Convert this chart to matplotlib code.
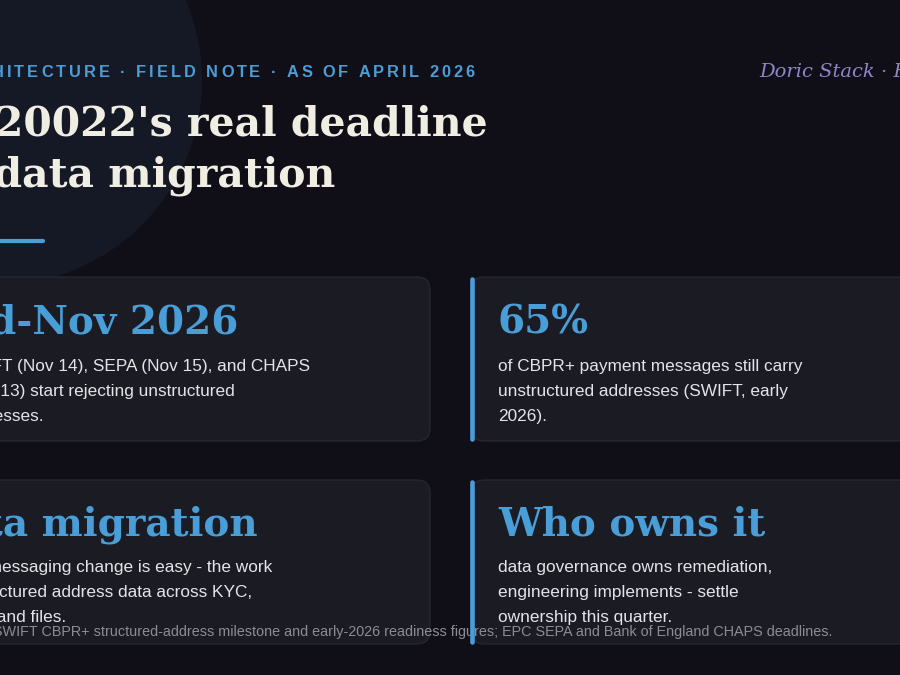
import matplotlib
matplotlib.use("Agg")
import matplotlib.pyplot as plt
from matplotlib.patches import FancyBboxPatch, Circle

# ---------------- data ----------------
kicker = "PAYMENTS ARCHITECTURE · FIELD NOTE · AS OF APRIL 2026"
brand = "Doric Stack · Field Notes"
title_lines = ["ISO 20022's real deadline", "is a data migration"]
card_heads = ["Mid-Nov 2026", "65%", "Data migration", "Who owns it"]
card_bodies = [
    ["SWIFT (Nov 14), SEPA (Nov 15), and CHAPS",
     "(Nov 13) start rejecting unstructured",
     "addresses."],
    ["of CBPR+ payment messages still carry",
     "unstructured addresses (SWIFT, early",
     "2026)."],
    ["The messaging change is easy - the work",
     "is structured address data across KYC,",
     "CRM and files."],
    ["data governance owns remediation,",
     "engineering implements - settle",
     "ownership this quarter."],
]
source = ("Sources: SWIFT CBPR+ structured-address milestone and early-2026 readiness "
          "figures; EPC SEPA and Bank of England CHAPS deadlines.")

# ---------------- style ----------------
BG = "#100f18"
CIRCLE = "#151825"
CARD = "#1b1b23"
EDGE = "#2a2a34"
BLUE = "#4a9ed8"
PURPLE = "#8d86cc"
CREAM = "#f0ede3"
BODY = "#e4e4e8"
GRAY = "#8c8c96"
SERIF = "DejaVu Serif"
SANS = "Liberation Sans"

W, H = 900, 675
fig = plt.figure(figsize=(9, 6.75), dpi=100)
fig.patch.set_facecolor(BG)
ax = fig.add_axes([0, 0, 1, 1])
ax.set_xlim(0, W)
ax.set_ylim(H, 0)
ax.axis("off")
ax.set_facecolor(BG)
r = fig.canvas.get_renderer()


def text_width(s, **kw):
    t = ax.text(0, 0, s, **kw)
    w = t.get_window_extent(renderer=r).width
    t.remove()
    return w


def spaced_text(x_end, y, s, spacing, **kw):
    base = text_width("||", **kw)
    offs = [text_width("|" + s[:i] + "|", **kw) - base for i in range(len(s) + 1)]
    total = offs[-1] + spacing * (len(s) - 1)
    x0 = x_end - total
    for i, ch in enumerate(s):
        ax.text(x0 + offs[i] + spacing * i, y, ch, ha="left", va="baseline", **kw)


# background circle
ax.add_patch(Circle((-3, 80), 205, facecolor=CIRCLE, edgecolor="none", zorder=0.5))

# kicker
spaced_text(475, 77, kicker, 3.0, fontsize=11.8, family=SANS, weight="bold",
            color=BLUE, zorder=3)
# brand
ax.text(759, 77, brand, ha="left", va="baseline", fontsize=14, family=SERIF,
        style="italic", color=PURPLE, zorder=3)

# title
title_ends = [488, 335]
title_base = [135, 186]
for line, xe, yb in zip(title_lines, title_ends, title_base):
    ax.text(xe, yb, line, ha="right", va="baseline", fontsize=29.5, family=SERIF,
            weight="bold", color=CREAM, zorder=3)

# accent rule
ax.plot([-10, 43], [240.5, 240.5], color=BLUE, lw=3, solid_capstyle="round", zorder=3)

# cards
card_x = [(-90, 430), (471, 990), (-90, 430), (471, 990)]
card_y = [(277, 441), (277, 441), (480, 644), (480, 644)]
for (x0, x1), (y0, y1) in zip(card_x, card_y):
    ax.add_patch(FancyBboxPatch((x0, y0), x1 - x0, y1 - y0,
                                boxstyle="round,pad=0,rounding_size=13",
                                facecolor=CARD, edgecolor=EDGE, lw=0.8, zorder=1))

# accent bars for right cards
for i in (1, 3):
    y0, y1 = card_y[i]
    ax.plot([471.5, 471.5], [y0 + 2, y1 - 2], color=BLUE, lw=3.3,
            solid_capstyle="round", zorder=5)

head_kw = dict(fontsize=28, family=SERIF, weight="bold", color=BLUE, zorder=3)
body_kw = dict(fontsize=12.45, family=SANS, color=BODY, zorder=3)

head_base = [333, 333, 535, 535]
body_base = [[370.5, 396, 421], [370.5, 396, 421], [572, 597, 622], [572, 597, 622]]
# left cards: visible ends of heading and first body line
head_end = {0: 238, 2: 258}
body_end = {0: 310, 2: 272}

for i in range(4):
    if i in (1, 3):
        ax.text(498, head_base[i], card_heads[i], ha="left", va="baseline", **head_kw)
        xl = 498
    else:
        ax.text(head_end[i], head_base[i], card_heads[i], ha="right", va="baseline",
                **head_kw)
        xl = body_end[i] - text_width(card_bodies[i][0], **body_kw)
    for line, yb in zip(card_bodies[i], body_base[i]):
        ax.text(xl, yb, line, ha="left", va="baseline", **body_kw)

# source footnote
ax.text(832, 636, source, ha="right", va="baseline", fontsize=10.4, family=SANS,
        color=GRAY, zorder=4)

fig.savefig("out.png", dpi=100, facecolor=BG)
